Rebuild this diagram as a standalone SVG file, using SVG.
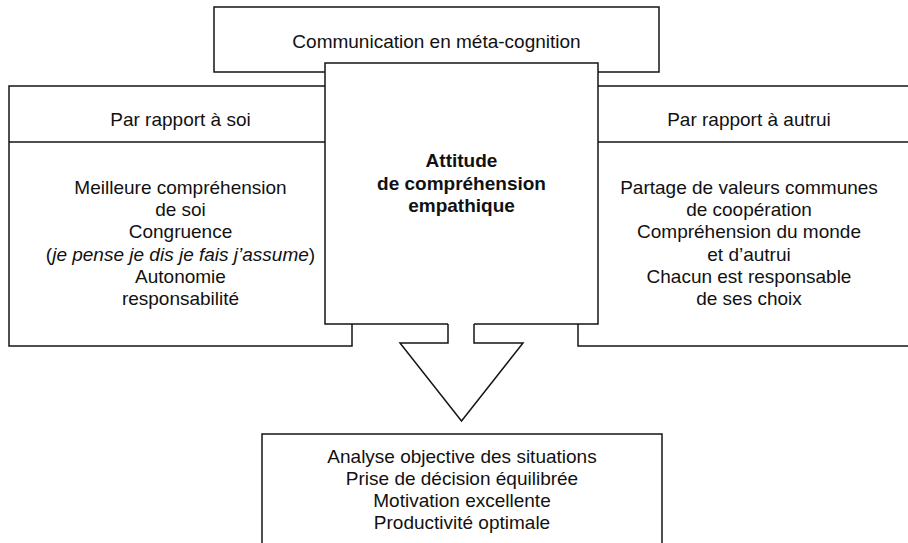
<svg xmlns="http://www.w3.org/2000/svg" width="908" height="543" viewBox="0 0 908 543">
<style>
.box{fill:#fff;stroke:#151515;stroke-width:1.5}
.ln{fill:none;stroke:#151515;stroke-width:1.5}
text{font-family:"Liberation Sans",Arial,Helvetica,sans-serif;font-size:19px;fill:#111;text-anchor:middle}
.b{font-weight:bold}
.i{font-style:italic}
</style>
<rect width="908" height="543" fill="#fff"/>
<g id="meta">
<rect class="box" x="214" y="7" width="445" height="65"/>
<text x="436.5" y="48">Communication en méta-cognition</text>
</g>
<g id="soi">
<rect class="box" x="9" y="86" width="343" height="260"/>
<line class="ln" x1="9" y1="142" x2="352" y2="142"/>
<text x="180.5" y="126">Par rapport à soi</text>
<text x="180.5" y="194">Meilleure compréhension</text>
<text x="180.5" y="216">de soi</text>
<text x="180.5" y="238">Congruence</text>
<text x="180.5" y="261">(<tspan class="i">je pense je dis je fais j’assume</tspan>)</text>
<text x="180.5" y="283">Autonomie</text>
<text x="180.5" y="305">responsabilité</text>
</g>
<g id="autrui">
<rect class="box" x="578" y="86" width="343" height="260"/>
<line class="ln" x1="578" y1="142" x2="921" y2="142"/>
<text x="749" y="126">Par rapport à autrui</text>
<text x="749" y="194">Partage de valeurs communes</text>
<text x="749" y="216">de coopération</text>
<text x="749" y="238">Compréhension du monde</text>
<text x="749" y="261">et d’autrui</text>
<text x="749" y="283">Chacun est responsable</text>
<text x="749" y="305">de ses choix</text>
</g>
<g id="attitude">
<rect x="325" y="63" width="273" height="261" fill="#fff"/>
<path class="ln" d="M448,324 H325 V63 H598 V324 H474"/>
<text class="b" x="461.5" y="167">Attitude</text>
<text class="b" x="461.5" y="190">de compréhension</text>
<text class="b" x="461.5" y="212">empathique</text>
</g>
<g id="connectors">
<path class="box" d="M448,324 V343 H400 L461.5,421 L523,343 H474 V324"/>
</g>
<g id="resultats">
<path class="box" d="M262,545 V434 H662 V545"/>
<text x="462" y="463">Analyse objective des situations</text>
<text x="462" y="485">Prise de décision équilibrée</text>
<text x="462" y="507">Motivation excellente</text>
<text x="462" y="529">Productivité optimale</text>
</g>
</svg>
